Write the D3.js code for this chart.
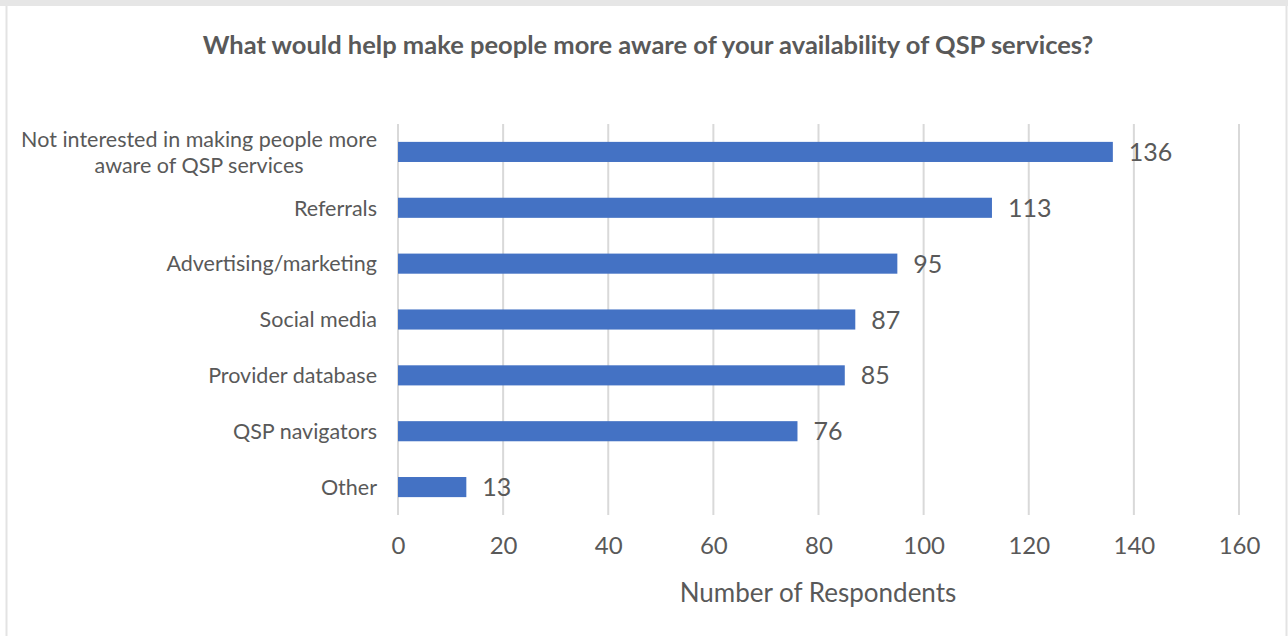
<!DOCTYPE html>
<html>
<head>
<meta charset="utf-8">
<script src="https://cdn.jsdelivr.net/npm/d3@7"></script>
<style>
  html, body { margin: 0; padding: 0; background: #fff; }
  svg { display: block; }
  text { font-family: Lato, "Noto Sans", sans-serif; fill: #595959; }
</style>
</head>
<body>
<svg id="chart" width="1288" height="636"></svg>
<script>
const categories = [
  "Not interested in making people more|aware of QSP services",
  "Referrals",
  "Advertising/marketing",
  "Social media",
  "Provider database",
  "QSP navigators",
  "Other"
];
const respondents = [136, 113, 95, 87, 85, 76, 13];
const tickValues = [0, 20, 40, 60, 80, 100, 120, 140, 160];

const W = 1288, H = 636;
const margin = { left: 398, right: 49, top: 124, bottom: 121 };
const labelRight = 377;
const svg = d3.select("#chart");

// frame of the chart area
svg.append("rect").attr("x", 0).attr("y", 0).attr("width", W).attr("height", 6).attr("fill", "#e6e6e6");
svg.append("line").attr("x1", 6.5).attr("x2", 6.5).attr("y1", 6).attr("y2", H).attr("stroke", "#e3e3e3").attr("stroke-width", 2);
svg.append("line").attr("x1", 1286.5).attr("x2", 1286.5).attr("y1", 6).attr("y2", H).attr("stroke", "#e3e3e3").attr("stroke-width", 2);

const x = d3.scaleLinear().domain([0, 160]).range([margin.left, W - margin.right]);
const y = d3.scaleBand().domain(categories).range([margin.top, H - margin.bottom]).paddingInner(0.64).paddingOuter(0.32);

// vertical gridlines
svg.append("g")
  .selectAll("line").data(tickValues).join("line")
  .attr("x1", d => x(d)).attr("x2", d => x(d))
  .attr("y1", margin.top).attr("y2", H - margin.bottom)
  .attr("stroke", "#d9d9d9").attr("stroke-width", 2);

// x axis tick labels
const axis = svg.append("g")
  .attr("transform", `translate(0,${H - margin.bottom})`)
  .call(d3.axisBottom(x).tickValues(tickValues).tickSize(0).tickPadding(22));
axis.select(".domain").remove();
axis.selectAll("text").attr("font-size", 24).style("font-family", "Lato, sans-serif").attr("fill", "#595959");

// bars
svg.append("g")
  .selectAll("rect").data(categories).join("rect")
  .attr("x", x(0))
  .attr("y", d => y(d))
  .attr("width", (d, i) => x(respondents[i]) - x(0))
  .attr("height", y.bandwidth())
  .attr("fill", "#4472c4");

// value labels
svg.append("g")
  .selectAll("text").data(categories).join("text")
  .attr("x", (d, i) => x(respondents[i]) + 16)
  .attr("y", d => y(d) + y.bandwidth() / 2)
  .attr("dy", "0.36em")
  .attr("font-size", 25)
  .text((d, i) => respondents[i]);

// category labels; wrapped labels are centred as a block, right edge at labelRight
const labelGroup = svg.append("g");
categories.forEach(d => {
  const lines = d.split("|");
  const cy = y(d) + y.bandwidth() / 2;
  const lh = 26;
  const t = labelGroup.append("text").attr("font-size", 21.5);
  const spans = t.selectAll("tspan").data(lines).join("tspan")
    .attr("y", (l, i) => cy + (i - (lines.length - 1) / 2) * lh)
    .attr("dy", "0.36em")
    .text(l => l);
  if (lines.length === 1) {
    t.attr("text-anchor", "end");
    spans.attr("x", labelRight);
  } else {
    const widest = d3.max(spans.nodes(), n => n.getComputedTextLength());
    t.attr("text-anchor", "middle");
    spans.attr("x", labelRight - widest / 2);
  }
});

// title
svg.append("text")
  .attr("x", 648).attr("y", 45)
  .attr("dy", "0.36em")
  .attr("text-anchor", "middle")
  .attr("font-size", 25.5)
  .attr("font-weight", "bold")
  .text("What would help make people more aware of your availability of QSP services?");

// axis title
svg.append("text")
  .attr("x", 818).attr("y", 593)
  .attr("dy", "0.36em")
  .attr("text-anchor", "middle")
  .attr("font-size", 26)
  .text("Number of Respondents");
</script>
</body>
</html>
